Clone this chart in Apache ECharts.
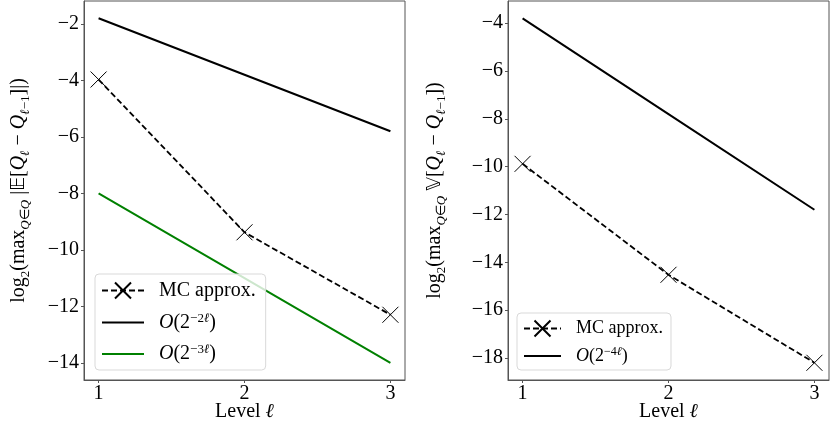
<!DOCTYPE html>
<html>
<head>
<meta charset="utf-8">
<script src="https://cdn.jsdelivr.net/npm/echarts@6/dist/echarts.min.js"></script>
<style>
  html, body { margin: 0; padding: 0; background: #fff; }
  #main { width: 830px; height: 422px; }
</style>
</head>
<body>
<div id="main"></div>
<script>
var levels = [1, 2, 3];
// left panel: log2 of max mean difference
var meanMC = [-3.97, -9.38, -12.3];
var meanRate2 = [-1.8, -3.8, -5.8];
var meanRate3 = [-8, -11, -14];
// right panel: log2 of max variance of difference
var varMC = [-9.88, -14.52, -18.2];
var varRate4 = [-3.8, -7.8, -11.8];

var xTicks = [1, 2, 3];
var yTicksMean = [-14, -12, -10, -8, -6, -4, -2];
var yTicksVar = [-18, -16, -14, -12, -10, -8, -6, -4];

var FONT = 'Liberation Serif';
var dom = document.getElementById('main');
var myChart = echarts.init(dom, null, { renderer: 'canvas' });

function pairs(xs, ys) {
    return xs.map(function (x, i) { return [x, ys[i]]; });
}
function minus(v) {
    return v < 0 ? '\u2212' + Math.abs(v) : String(v);
}

var mathRich = {
    n: { fontFamily: FONT, fontSize: 20, color: '#000', lineHeight: 26 },
    i: { fontFamily: FONT, fontSize: 20, fontStyle: 'italic', color: '#000', lineHeight: 26 },
    s: { fontFamily: FONT, fontSize: 13, color: '#000', lineHeight: 26, verticalAlign: 'bottom', padding: [8, 0, 0, 0] },
    si: { fontFamily: FONT, fontSize: 13, fontStyle: 'italic', color: '#000', lineHeight: 26, verticalAlign: 'bottom', padding: [8, 0, 0, 0] },
    bb: { fontFamily: 'DejaVu Sans', fontSize: 19, color: '#000', lineHeight: 26 }
};
var xNameRich = {
    n: { fontFamily: FONT, fontSize: 20, color: '#000', lineHeight: 20 },
    i: { fontFamily: FONT, fontSize: 20, fontStyle: 'italic', color: '#000', lineHeight: 20 }
};

var xMark = 'path://M0,0L10,10M10,0L0,10';

function xAxisCfg(idx) {
    return {
        type: 'value', gridIndex: idx, min: 0.9, max: 3.1,
        name: '{n|Level }{i|ℓ}', nameLocation: 'middle', nameGap: 22, nameMoveOverlap: false,
        nameTextStyle: { rich: xNameRich, verticalAlign: 'top' },
        axisLine: { show: true, lineStyle: { color: '#555', width: 1 } },
        axisTick: { show: true, customValues: xTicks, length: 3, lineStyle: { color: '#555' } },
        axisLabel: { customValues: xTicks, margin: 4, fontFamily: FONT, fontSize: 20, color: '#000' },
        splitLine: { show: false }
    };
}
function yAxisCfg(idx, min, max, ticks, name, gap) {
    return {
        type: 'value', gridIndex: idx, min: min, max: max,
        name: name, nameLocation: 'middle', nameGap: gap, nameRotate: 90,
        nameTextStyle: { rich: mathRich },
        axisLine: { show: true, lineStyle: { color: '#555', width: 1 } },
        axisTick: { show: true, customValues: ticks, length: 3, lineStyle: { color: '#555' } },
        axisLabel: { customValues: ticks, margin: 5, fontFamily: FONT, fontSize: 20, color: '#000', formatter: minus },
        splitLine: { show: false }
    };
}

var legendRich = {
    n: { fontFamily: FONT, fontSize: 20, color: '#000', padding: [0, 0, 0, 10] },
    i: { fontFamily: FONT, fontSize: 20, fontStyle: 'italic', color: '#000' },
    p: { fontFamily: FONT, fontSize: 20, color: '#000' },
    sup: { fontFamily: FONT, fontSize: 13, color: '#000', verticalAlign: 'top', padding: [0, 0, 8, 0] },
    supi: { fontFamily: FONT, fontSize: 13, fontStyle: 'italic', color: '#000', verticalAlign: 'top', padding: [0, 0, 8, 0] }
};
var legendRich2 = JSON.parse(JSON.stringify(legendRich));
['n', 'i', 'p'].forEach(function (k) { legendRich2[k].fontSize = 18; });
['sup', 'supi'].forEach(function (k) { legendRich2[k].fontSize = 12; });

function legendFmt(name) {
    if (name === 'MC approx.') return '{n|MC approx.}';
    if (name === 'rate2') return '{n|}{i|O}{p|(2}{sup|−2}{supi|ℓ}{p|)}';
    if (name === 'rate3') return '{n|}{i|O}{p|(2}{sup|−3}{supi|ℓ}{p|)}';
    if (name === 'rate4') return '{n|}{i|O}{p|(2}{sup|−4}{supi|ℓ}{p|)}';
    return name;
}
// plain lines: hide the legend symbol, keep the line sample
function lineOnly(name) {
    return { name: name, itemStyle: { opacity: 0 } };
}

option = {
    backgroundColor: '#fff',
    animation: false,
    grid: [
        { left: 84, top: 1, width: 321, height: 379, show: true, borderColor: '#555', borderWidth: 1, outerBoundsMode: 'none', containLabel: false },
        { left: 508, top: 1, width: 321, height: 379, show: true, borderColor: '#555', borderWidth: 1, outerBoundsMode: 'none', containLabel: false }
    ],
    xAxis: [xAxisCfg(0), xAxisCfg(1)],
    yAxis: [
        yAxisCfg(0, -14.61, -1.19, yTicksMean,
            '{n|log}{s|2}{n|(max}{si|Q}{s|∈}{si|Q}{n| |}{bb|𝔼}{n|[}{i|Q}{si|ℓ}{n| − }{i|Q}{si|ℓ}{s|−1}{n|]|)}', 52),
        yAxisCfg(1, -18.92, -3.07, yTicksVar,
            '{n|log}{s|2}{n|(max}{si|Q}{s|∈}{si|Q}{n| }{bb|𝕍}{n|[}{i|Q}{si|ℓ}{n| − }{i|Q}{si|ℓ}{s|−1}{n|])}', 60)
    ],
    legend: [
        {
            data: ['MC approx.', lineOnly('rate2'), lineOnly('rate3')],
            orient: 'vertical', left: 95, top: 274,
            itemWidth: 42, itemHeight: 20, itemGap: 11,
            padding: [6, 10, 6, 6],
            borderColor: '#d9d9d9', borderWidth: 1, borderRadius: 4,
            backgroundColor: 'rgba(255,255,255,0.8)',
            formatter: legendFmt,
            textStyle: { rich: legendRich }
        },
        {
            data: ['MC approx. ', lineOnly('rate4')],
            orient: 'vertical', left: 517, top: 313,
            itemWidth: 37, itemHeight: 20, itemGap: 7,
            padding: [5, 8, 5, 6],
            borderColor: '#d9d9d9', borderWidth: 1, borderRadius: 4,
            backgroundColor: 'rgba(255,255,255,0.8)',
            formatter: function (name) { return legendFmt(name.trim()); },
            textStyle: { rich: legendRich2 }
        }
    ],
    series: [
        {
            name: 'MC approx.', type: 'line', xAxisIndex: 0, yAxisIndex: 0,
            data: pairs(levels, meanMC),
            symbol: xMark, symbolSize: 16,
            itemStyle: { color: 'none', borderColor: '#000', borderWidth: 1 },
            lineStyle: { color: '#000', width: 1.8, type: [6, 3] }
        },
        {
            name: 'rate2', type: 'line', xAxisIndex: 0, yAxisIndex: 0,
            data: pairs(levels, meanRate2), symbol: 'none',
            itemStyle: { color: '#000' },
            lineStyle: { color: '#000', width: 2 }
        },
        {
            name: 'rate3', type: 'line', xAxisIndex: 0, yAxisIndex: 0,
            data: pairs(levels, meanRate3), symbol: 'none',
            itemStyle: { color: '#008000' },
            lineStyle: { color: '#008000', width: 2 }
        },
        {
            name: 'MC approx. ', type: 'line', xAxisIndex: 1, yAxisIndex: 1,
            data: pairs(levels, varMC),
            symbol: xMark, symbolSize: 16,
            itemStyle: { color: 'none', borderColor: '#000', borderWidth: 1 },
            lineStyle: { color: '#000', width: 1.8, type: [6, 3] }
        },
        {
            name: 'rate4', type: 'line', xAxisIndex: 1, yAxisIndex: 1,
            data: pairs(levels, varRate4), symbol: 'none',
            itemStyle: { color: '#000' },
            lineStyle: { color: '#000', width: 2 }
        }
    ]
};
myChart.setOption(option);
window.onresize = myChart.resize;
</script>
</body>
</html>
